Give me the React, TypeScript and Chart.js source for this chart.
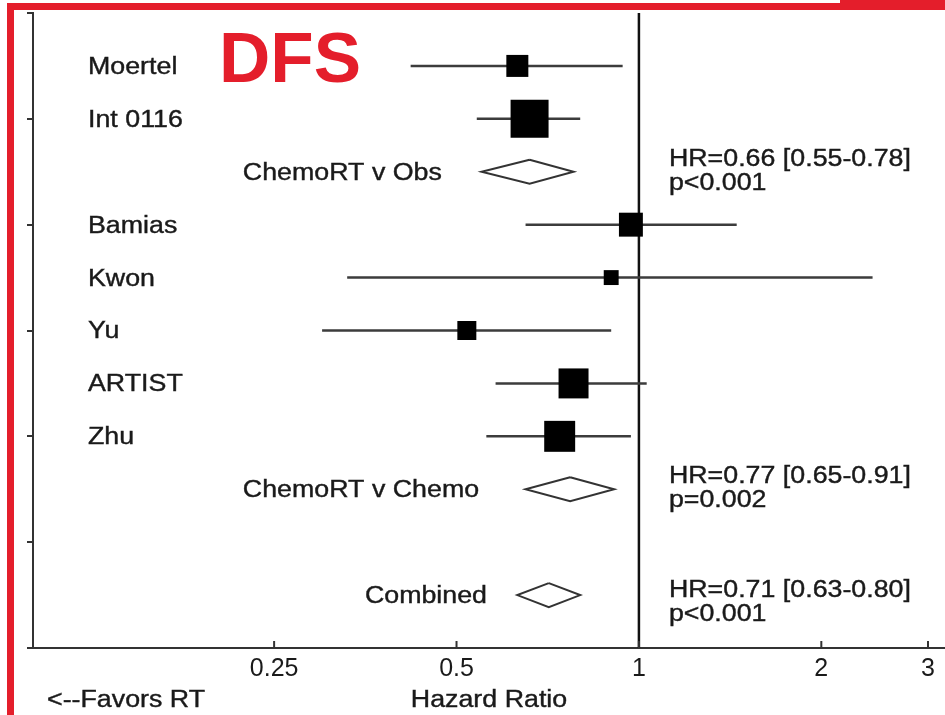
import React, { useEffect, useRef } from "react";
import { Chart, registerables } from "chart.js";

Chart.register(...registerables);

// ---------- data ----------
const studyNames = ["Moertel", "Int 0116", "Bamias", "Kwon", "Yu", "ARTIST", "Zhu"];
const studyRows = [1, 2, 4, 5, 6, 7, 8];
const studyHR = [0.63, 0.66, 0.97, 0.9, 0.52, 0.78, 0.74];
const studyLower = [0.42, 0.54, 0.65, 0.33, 0.3, 0.58, 0.56];
const studyUpper = [0.94, 0.8, 1.45, 2.43, 0.9, 1.03, 0.97];
const studyWeight = [9.8, 29.2, 11.6, 4.5, 7.3, 18.2, 19.4];

const poolNames = ["ChemoRT v Obs", "ChemoRT v Chemo", "Combined"];
const poolRows = [3, 9, 11];
const poolHR = [0.66, 0.77, 0.71];
const poolLower = [0.55, 0.65, 0.63];
const poolUpper = [0.78, 0.91, 0.8];
const poolP = ["p<0.001", "p=0.002", "p<0.001"];

const xTickValues = [0.25, 0.5, 1, 2, 3];
const xTickLabels = ["0.25", "0.5", "1", "2", "3"];
const xAxisTitle = "Hazard Ratio";
const favorsText = "<--Favors RT";
const panelTitle = "DFS";

// ---------- layout / style constants ----------
const RED = "#E41E2B";
const FONT = '"Liberation Sans", Arial, Helvetica, sans-serif';
const TEXT_COLOR = "#1a1a1a";
const STRETCH = 1.14;
const DIAMOND_HALF = 0.227; // in row units
const poolLabelAnchor = [0.222, 0.222, 0.353]; // HR value where subgroup label starts
const poolTextShift = [0, 0, 0.15]; // row-unit shift of the HR text block

function drawText(
  ctx: CanvasRenderingContext2D,
  text: string,
  x: number,
  y: number,
  size: number,
  align: CanvasTextAlign = "left",
  stretch = STRETCH,
  color = TEXT_COLOR
) {
  ctx.save();
  ctx.font = `${size}px ${FONT}`;
  ctx.fillStyle = color;
  ctx.strokeStyle = color;
  ctx.lineWidth = 0.4;
  ctx.textAlign = align;
  ctx.textBaseline = "middle";
  ctx.translate(x, y + 1.5);
  ctx.scale(stretch, 1);
  ctx.fillText(text, 0, 0);
  ctx.strokeText(text, 0, 0);
  ctx.restore();
}

const decorPlugin = {
  id: "forestDecor",
  afterDraw(chart: any) {
    const ctx: CanvasRenderingContext2D = chart.ctx;
    const xs = chart.scales.x;
    const ys = chart.scales.y;
    const area = chart.chartArea;

    // inward x ticks
    ctx.save();
    ctx.strokeStyle = "#333";
    ctx.lineWidth = 2;
    xTickValues.forEach((v) => {
      const px = xs.getPixelForValue(v);
      ctx.beginPath();
      ctx.moveTo(px, area.bottom);
      ctx.lineTo(px, area.bottom - 7);
      ctx.stroke();
    });
    ctx.restore();

    // study labels
    studyNames.forEach((name, i) => {
      drawText(ctx, name, 88, ys.getPixelForValue(studyRows[i]), 23.5);
    });

    // pooled labels and HR text
    const hrX = xs.getPixelForValue(1) + 30;
    poolNames.forEach((name, i) => {
      const py = ys.getPixelForValue(poolRows[i]);
      drawText(ctx, name, xs.getPixelForValue(poolLabelAnchor[i]), py, 23.5);
      const ty = ys.getPixelForValue(poolRows[i] + poolTextShift[i]);
      const hrText = `HR=${poolHR[i].toFixed(2)} [${poolLower[i].toFixed(2)}-${poolUpper[i].toFixed(2)}]`;
      drawText(ctx, hrText, hrX, ty - 14, 23.5);
      drawText(ctx, poolP[i], hrX, ty + 10, 23.5);
    });

    // axis title and favours label
    drawText(ctx, xAxisTitle, (area.left + area.right) / 2, 699, 23.5, "center");
    drawText(ctx, favorsText, 47, 699, 23.5);

    // DFS title
    ctx.save();
    ctx.font = `bold 71px ${FONT}`;
    ctx.fillStyle = RED;
    ctx.textAlign = "left";
    ctx.textBaseline = "alphabetic";
    ctx.fillText(panelTitle, 219, 82);
    ctx.restore();

    // red frame
    ctx.save();
    ctx.fillStyle = RED;
    ctx.fillRect(7, 3, 7, chart.height - 3);
    ctx.fillRect(7, 3, 833, 7);
    ctx.fillRect(840, 0, chart.width - 840, 10);
    ctx.restore();
  },
};

export default function App() {
  const canvasRef = useRef<HTMLCanvasElement | null>(null);

  useEffect(() => {
    if (!canvasRef.current) return;

    const whiskers: any[] = [];
    studyRows.forEach((r, i) => {
      whiskers.push({ x: studyLower[i], y: r });
      whiskers.push({ x: studyUpper[i], y: r });
      whiskers.push({ x: studyUpper[i], y: null });
    });

    const squares = studyRows.map((r, i) => ({ x: studyHR[i], y: r }));
    const squareRadius = studyWeight.map((w) => 4.97 * Math.sqrt(w));

    const diamonds: any[] = [];
    poolRows.forEach((r, i) => {
      diamonds.push({ x: poolHR[i], y: r - DIAMOND_HALF });
      diamonds.push({ x: poolLower[i], y: r });
      diamonds.push({ x: poolHR[i], y: r + DIAMOND_HALF });
      diamonds.push({ x: poolUpper[i], y: r });
      diamonds.push({ x: poolHR[i], y: r - DIAMOND_HALF });
      diamonds.push({ x: poolHR[i], y: null });
    });

    const tickFont = { family: FONT, size: 25 };

    const chart = new Chart(canvasRef.current, {
      type: "scatter",
      data: {
        datasets: [
          {
            label: "ref",
            data: [
              { x: 1, y: 0 },
              { x: 1, y: 12 },
            ],
            showLine: true,
            borderColor: "#111",
            borderWidth: 2.5,
            pointRadius: 0,
            order: 4,
          } as any,
          {
            label: "ci",
            data: whiskers,
            showLine: true,
            spanGaps: false,
            borderColor: "#3c3c3c",
            borderWidth: 2.5,
            pointRadius: 0,
            order: 3,
          },
          {
            label: "pooled",
            data: diamonds,
            showLine: true,
            spanGaps: false,
            borderColor: "#333",
            borderWidth: 2,
            borderJoinStyle: "miter",
            pointRadius: 0,
            tension: 0,
            fill: false,
            order: 2,
          },
          {
            label: "hr",
            data: squares,
            showLine: false,
            pointStyle: "rect",
            pointRadius: squareRadius,
            pointBackgroundColor: "#000",
            pointBorderWidth: 0,
            order: 1,
          },
        ],
      },
      options: {
        animation: false,
        responsive: true,
        maintainAspectRatio: false,
        devicePixelRatio: 1,
        layout: { autoPadding: false, padding: { left: 27, right: 0, top: 13, bottom: 25 } },
        plugins: {
          legend: { display: false },
          tooltip: { enabled: false },
        },
        events: [],
        scales: {
          x: {
            type: "logarithmic",
            position: "bottom",
            min: 0.1,
            max: 3.2,
            grid: { display: true, drawOnChartArea: false, drawTicks: false },
            border: { display: true, color: "#333", width: 2 },
            afterBuildTicks: (scale: any) => {
              scale.ticks = xTickValues.map((v) => ({ value: v }));
            },
            ticks: {
              autoSkip: false,
              maxRotation: 0,
              padding: 6,
              color: TEXT_COLOR,
              font: tickFont,
              callback: (value: any) => {
                const idx = xTickValues.indexOf(Number(value));
                return idx >= 0 ? xTickLabels[idx] : "";
              },
            },
            title: { display: false },
          },
          y: {
            type: "linear",
            min: 0,
            max: 12,
            reverse: true,
            ticks: { display: false, stepSize: 2 },
            grid: {
              display: true,
              drawOnChartArea: false,
              drawTicks: true,
              tickLength: 6,
              color: "#333",
              lineWidth: 2,
            },
            border: { display: true, color: "#333", width: 2 },
          },
        },
      } as any,
      plugins: [decorPlugin],
    });

    return () => chart.destroy();
  }, []);

  return (
    <div
      style={{
        position: "fixed",
        left: 0,
        top: 0,
        width: 945,
        height: 715,
        background: "#fff",
      }}
    >
      <canvas ref={canvasRef} />
    </div>
  );
}
